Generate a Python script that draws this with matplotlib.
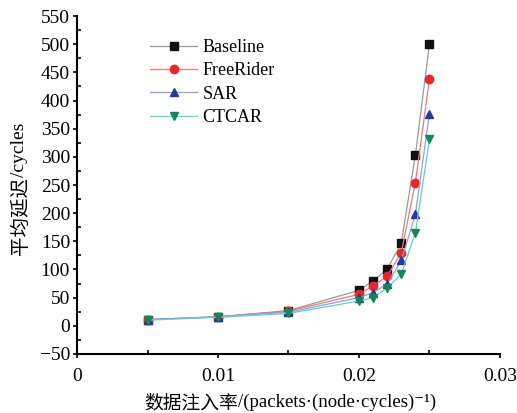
import matplotlib
matplotlib.use("Agg")
import matplotlib.pyplot as plt
from matplotlib.ticker import MultipleLocator

plt.rcParams['font.family'] = ['Liberation Serif', 'DejaVu Serif', 'Noto Sans CJK SC']

# injection rate
rate = [0.005, 0.01, 0.015, 0.02, 0.021, 0.022, 0.023, 0.024, 0.025]

baseline = [11, 16, 27, 63, 80, 100, 147, 303, 500]
freerider = [11, 16, 26, 56, 71, 88, 130, 254, 438]
sar = [11, 16, 24, 50, 59, 74, 116, 198, 377]
ctcar = [10, 15, 22, 44, 50, 67, 92, 165, 331]

names = ["Baseline", "FreeRider", "SAR", "CTCAR"]
series = [baseline, freerider, sar, ctcar]
line_colors = ["#9a9a9a", "#f0787a", "#8fa3d8", "#5fd0d0"]
marker_colors = ["#111111", "#e8262b", "#23399c", "#14875a"]
markers = ["s", "o", "^", "v"]

W, H = 517, 413
fig = plt.figure(figsize=(W / 100, H / 100), dpi=100)
ax = fig.add_axes([0.149, 0.143, 0.818, 0.818])

for name, ys, lc, mc, m in zip(names, series, line_colors, marker_colors, markers):
    ax.plot(rate, ys, color=lc, lw=0.9, marker=m, markersize=6,
            markerfacecolor=mc, markeredgecolor=mc, label=name)

ax.set_xlim(0, 0.03)
ax.set_ylim(-50, 550)
ax.set_xticks([0, 0.01, 0.02, 0.03])
ax.set_xticklabels(["0", "0.01", "0.02", "0.03"])
ax.xaxis.set_minor_locator(MultipleLocator(0.005))
ax.yaxis.set_major_locator(MultipleLocator(50))
ax.yaxis.set_minor_locator(MultipleLocator(25))
ax.set_yticklabels([str(int(v)).replace("-", "\u2212") for v in ax.get_yticks()])

ax.spines['top'].set_visible(False)
ax.spines['right'].set_visible(False)
ax.spines['left'].set_linewidth(1.5)
ax.spines['bottom'].set_linewidth(1.5)
ax.tick_params(axis='both', which='major', labelsize=14, direction='out', length=3, width=1.2)
ax.tick_params(axis='both', which='minor', direction='in', length=3, width=1.2)
ax.tick_params(axis='x', which='major', pad=7)
ax.tick_params(axis='y', which='major', pad=2)

ax.legend(loc='upper left', bbox_to_anchor=(0.135, 0.98), frameon=False,
          fontsize=13, handlelength=2.6, handletextpad=0.3, labelspacing=0.35)

# axis titles: Chinese part in CJK font, latin part in serif
cjk = ['Noto Sans CJK SC', 'Liberation Serif']
serif = ['Liberation Serif', 'DejaVu Serif']
renderer = fig.canvas.get_renderer()


def label_pieces(pieces, cx, cy, rotation, size):
    texts = []
    for s, fam in pieces:
        t = fig.text(0, 0, s, family=fam, fontsize=size, rotation=rotation,
                     rotation_mode='anchor', ha='left', va='center_baseline')
        texts.append(t)
    sizes = []
    for t in texts:
        bb = t.get_window_extent(renderer)
        sizes.append(bb.height if rotation else bb.width)
    pos = -sum(sizes) / 2
    for t, sz in zip(texts, sizes):
        if rotation:
            t.set_position((cx / W, (H - cy + pos) / H))
        else:
            t.set_position(((cx + pos) / W, (H - cy) / H))
        pos += sz


label_pieces([("数据注入率", cjk), ("/(packets·(node·cycles)\u207b\u00b9)", serif)],
             290, 400, 0, 13.5)
label_pieces([("平均延迟", cjk), ("/cycles", serif)], 18, 189, 90, 14)

fig.savefig("out.png", dpi=100)
